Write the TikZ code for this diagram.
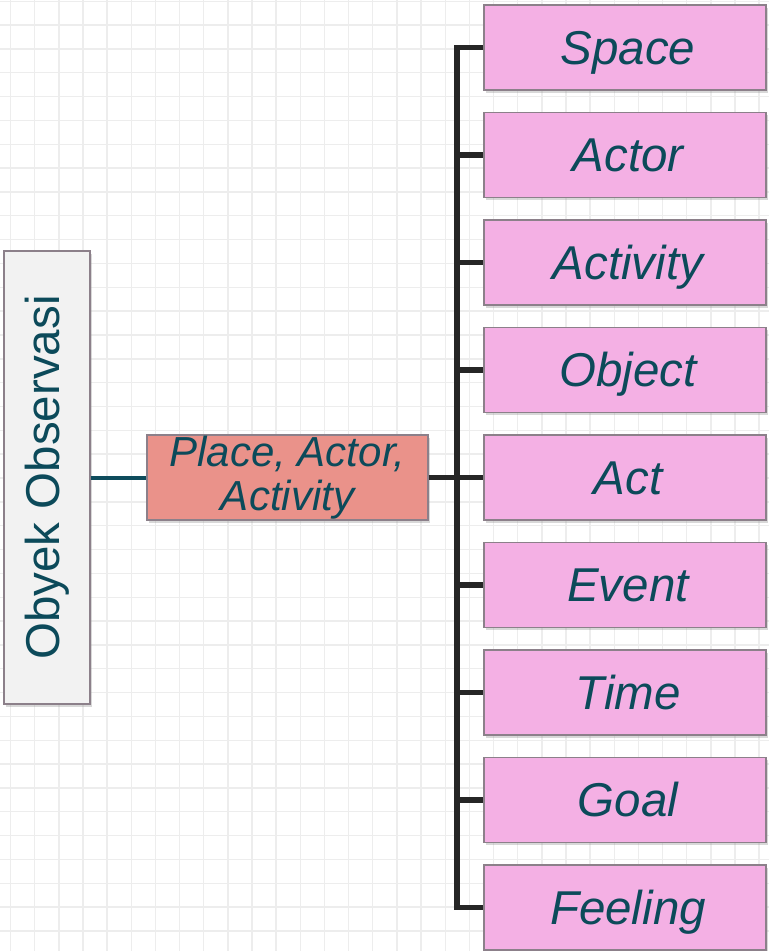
\documentclass[tikz,border=0pt]{standalone}
\usepackage{fontspec}
\setmainfont{Liberation Sans}
\usetikzlibrary{shadows}
\definecolor{inkteal}{RGB}{12,74,90}
\definecolor{stemteal}{RGB}{14,76,92}
\definecolor{rosefill}{RGB}{244,176,228}
\definecolor{salmonfill}{RGB}{234,146,138}
\definecolor{palefill}{RGB}{242,242,242}
\definecolor{edgegrey}{RGB}{140,128,138}
\definecolor{gridgrey}{RGB}{237,237,237}
\definecolor{trunkgrey}{RGB}{38,38,38}
\tikzset{
  box/.style={draw=edgegrey, line width=1.2pt, text=inkteal,
    drop shadow={opacity=0.3, shadow xshift=2pt, shadow yshift=-2.5pt}},
  aspect/.style={box, fill=rosefill, minimum width=282pt, minimum height=85pt,
    font=\fontsize{47.5}{50}\selectfont\itshape, text height=33pt, text depth=0pt},
  link/.style={trunkgrey, line width=5.5pt},
  gridline/.style={gridgrey, line width=1.4pt},
}
\begin{document}
\begin{tikzpicture}[x=1pt,y=-1pt]
  \useasboundingbox (0,0) rectangle (769,951);
  \fill[white] (0,0) rectangle (769,951);
  % background grid
  \foreach \k in {0,...,31}
    \draw[gridline] ({10.5+24.15*\k},0) -- ({10.5+24.15*\k},951);
  \foreach \k in {0,...,39}
    \draw[gridline] (0,{1.2+23.84*\k}) -- (769,{1.2+23.84*\k});

  \node[box, fill=palefill, rotate=90, minimum width=453pt, minimum height=86pt,
    font=\fontsize{47.5}{50}\selectfont] (obyek) at (47,477.5) {Obyek Observasi};
  \node[box, fill=salmonfill, minimum width=281pt, minimum height=85pt, inner ysep=0pt,
    align=center, font=\fontsize{42}{44}\selectfont\itshape] (pa) at (287.5,477.5) {Place, Actor,\\Activity};
  \foreach \nm/\lbl [count=\i from 0] in {space/Space, actor/Actor, activity/Activity,
      object/Object, act/Act, event/Event, time/Time, goal/Goal, feeling/Feeling}
    \node[aspect] (\nm) at (625,{47.5+107.5*\i}) {\hspace*{6pt}\lbl};

  \coordinate (tr) at (457,0);
  \draw[stemteal, line width=4pt] (obyek) -- (pa);
  \draw[link] (space.west) -- (space.west -| tr) -- (feeling.west -| tr) -- (feeling.west);
  \foreach \nm in {actor,activity,object,event,time,goal}
    \draw[link] (\nm.west -| tr) -- (\nm.west);
  \draw[link] (pa.east) -- (act.west);
\end{tikzpicture}
\end{document}
